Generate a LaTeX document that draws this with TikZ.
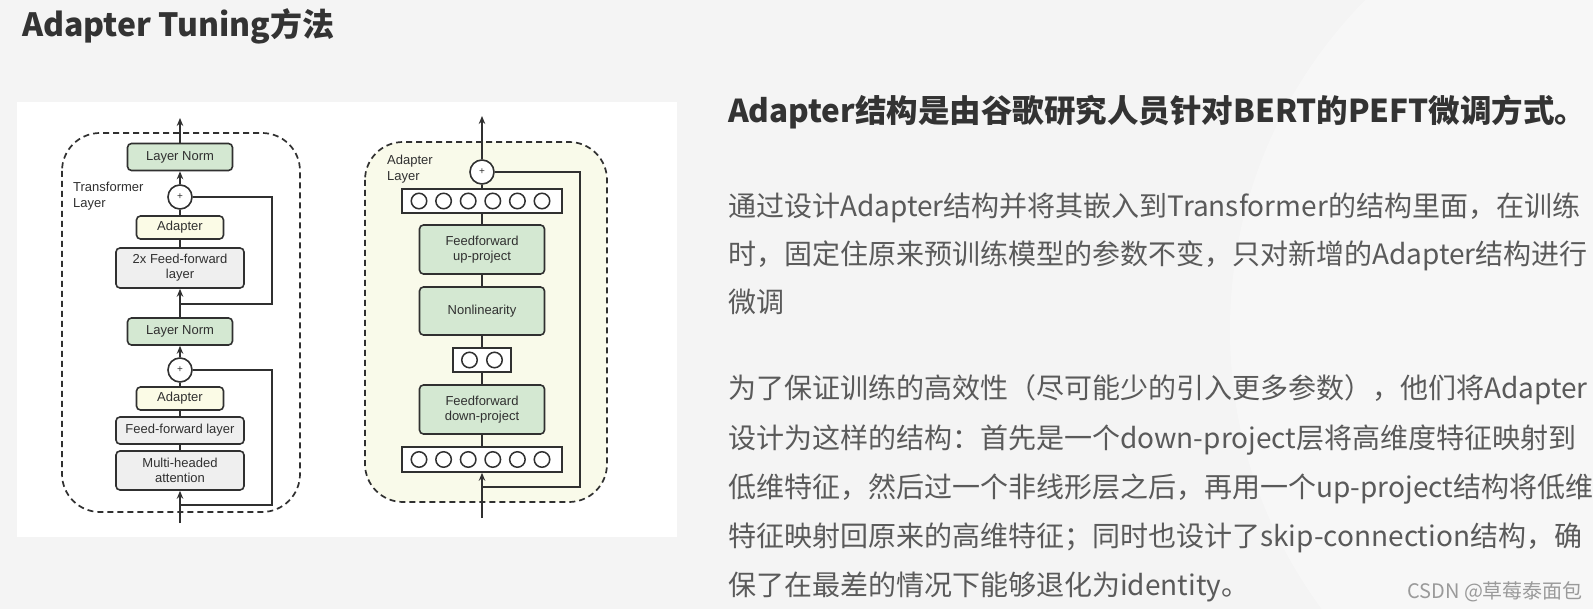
\documentclass[tikz,border=0pt]{standalone}
\usepackage{fontspec}
\setmainfont{Liberation Sans}
\newfontfamily\cjk{Noto Sans CJK SC}
\usetikzlibrary{arrows.meta}
\definecolor{bgc}{HTML}{F4F4F4}
\definecolor{linec}{HTML}{303030}
\definecolor{greenc}{HTML}{D4E8D2}
\definecolor{yellc}{HTML}{FBFBE6}
\definecolor{grayc}{HTML}{EFEFEF}
\definecolor{creamc}{HTML}{F9FAEA}
\definecolor{headc}{HTML}{333333}
\definecolor{bodyc}{HTML}{5A5A5A}
\definecolor{markc}{HTML}{9A9A9A}
\tikzset{
  blk/.style={draw=linec, line width=1.6pt, rounded corners=4pt, align=center,
    inner sep=0pt, font=\fontsize{13}{15}\selectfont, text=linec},
  greenbox/.style={blk, fill=greenc},
  yellbox/.style={blk, fill=yellc},
  graybox/.style={blk, fill=grayc},
  plusnode/.style={circle, draw=linec, line width=1.6pt, fill=white, minimum size=24pt,
    inner sep=0pt, font=\fontsize{10}{10}\selectfont, text=linec},
  neurbox/.style={draw=linec, line width=1.6pt, fill=white, inner sep=0pt},
  neuron/.style={circle, draw=linec, line width=1.5pt, minimum size=15.5pt, inner sep=0pt},
  conn/.style={draw=linec, line width=1.6pt},
  arr/.style={conn, -{Stealth[length=8pt,width=6.5pt]}},
  dashbox/.style={draw=linec, line width=1.7pt, dash pattern=on 6pt off 4pt, rounded corners=38pt},
  lbl/.style={font=\fontsize{13}{15.5}\selectfont, text=linec, align=left, inner sep=0pt},
  bodyline/.style={anchor=base west, inner sep=0pt, text=bodyc, font=\cjk\fontsize{28}{30}\selectfont},
}
\begin{document}
\begin{tikzpicture}[x=1pt,y=-1pt]
\useasboundingbox (0,0) rectangle (1593,609);
\fill[bgc] (0,0) rectangle (1593,609);
\fill[white, opacity=0.3] (1700,330) circle (470);
% title
\node[anchor=base west, inner sep=0pt, text=headc, font=\cjk\bfseries\fontsize{32}{34}\selectfont] (title) at (22,37) {Adapter Tuning方法};
% figure panel
\fill[white] (17,102) rectangle (677,537);

% ===== left: transformer layer =====
\draw[dashbox] (62,133) rectangle (300,512);
\node[lbl, anchor=north west] (tl) at (73,182) {Transformer\\Layer};
\node[greenbox, minimum width=105pt, minimum height=27pt] (ln1) at (180,157) {Layer Norm};
\node[plusnode] (p1) at (180,197) {+};
\node[yellbox, minimum width=87pt, minimum height=23pt] (ad1) at (180,227.5) {Adapter};
\node[graybox, minimum width=128pt, minimum height=40pt] (ff2) at (180,268) {2x Feed-forward\\layer};
\node[greenbox, minimum width=105pt, minimum height=27pt] (ln2) at (180,331.5) {Layer Norm};
\node[plusnode] (p2) at (180,370) {+};
\node[yellbox, minimum width=87pt, minimum height=23pt] (ad2) at (180,398.5) {Adapter};
\node[graybox, minimum width=128pt, minimum height=27pt] (ff1) at (180,430.5) {Feed-forward layer};
\node[graybox, minimum width=128pt, minimum height=39pt] (mha) at (180,470.5) {Multi-headed\\attention};
\coordinate (o1) at (180,118);
\coordinate (i1) at (180,523);
\coordinate (j1) at (180,304);
\coordinate (s1) at (272,304);
\coordinate (j2) at (180,505);
\coordinate (s2) at (272,505);
\draw[arr] (ln1) -- (o1);
\draw[arr] (p1) -- (ln1);
\draw[conn] (ad1) -- (p1);
\draw[conn] (ff2) -- (ad1);
\draw[arr] (ln2) -- (ff2);
\draw[arr] (p2) -- (ln2);
\draw[conn] (ad2) -- (p2);
\draw[conn] (ff1) -- (ad2);
\draw[conn] (mha) -- (ff1);
\draw[arr] (i1) -- (mha);
\draw[conn] (j1) -- (s1) |- (p1);
\draw[conn] (j2) -- (s2) |- (p2);

% ===== right: adapter layer =====
\draw[dashbox, fill=creamc] (365,142) rectangle (607,502);
\node[lbl, anchor=north west] (al) at (387,155) {Adapter\\Layer};
\node[plusnode] (p3) at (482,172) {+};
\node[neurbox, minimum width=160pt, minimum height=24pt] (nt) at (482,201) {};
\node[greenbox, minimum width=125pt, minimum height=49pt] (up) at (482,249.5) {Feedforward\\up-project};
\node[greenbox, minimum width=125pt, minimum height=48pt] (nl) at (482,311) {Nonlinearity};
\node[neurbox, minimum width=58pt, minimum height=24pt] (nm) at (482,360) {};
\node[greenbox, minimum width=125pt, minimum height=49pt] (dn) at (482,409.5) {Feedforward\\down-project};
\node[neurbox, minimum width=160pt, minimum height=25pt] (nb) at (482,459.5) {};
\foreach \i/\xx in {1/419,2/443.6,3/468.2,4/492.8,5/517.4,6/542}{
  \node[neuron] (nt\i) at (\xx,201) {};
  \node[neuron] (nb\i) at (\xx,459.5) {};
}
\node[neuron] (nm1) at (469.5,360) {};
\node[neuron] (nm2) at (494.5,360) {};
\coordinate (o3) at (482,116);
\coordinate (i3) at (482,518);
\coordinate (j3) at (482,487);
\coordinate (s3) at (580,487);
\draw[arr] (p3) -- (o3);
\draw[conn] (nt) -- (p3);
\draw[conn] (up) -- (nt);
\draw[conn] (nl) -- (up);
\draw[conn] (nm) -- (nl);
\draw[conn] (dn) -- (nm);
\draw[conn] (nb) -- (dn);
\draw[arr] (i3) -- (nb);
\draw[conn] (j3) -- (s3) |- (p3);

% ===== right-hand text =====
\node[anchor=base west, inner sep=0pt, text=headc, font=\cjk\bfseries\fontsize{31.5}{33}\selectfont] (hd) at (728,123) {Adapter结构是由谷歌研究人员针对BERT的PEFT微调方式。};
\node[bodyline] (a1) at (728,217) {通过设计Adapter结构并将其嵌入到Transformer的结构里面，在训练};
\node[bodyline] (a2) at (728,265) {时，固定住原来预训练模型的参数不变，只对新增的Adapter结构进行};
\node[bodyline] (a3) at (728,313) {微调};
\node[bodyline] (b1) at (728,399) {为了保证训练的高效性（尽可能少的引入更多参数），他们将Adapter};
\node[bodyline] (b2) at (728,448) {设计为这样的结构：首先是一个down-project层将高维度特征映射到};
\node[bodyline] (b3) at (728,497) {低维特征，然后过一个非线形层之后，再用一个up-project结构将低维};
\node[bodyline] (b4) at (728,546) {特征映射回原来的高维特征；同时也设计了skip-connection结构，确};
\node[bodyline] (b5) at (728,595) {保了在最差的情况下能够退化为identity。};
\node[anchor=base west, inner sep=0pt, text=markc, font=\cjk\fontsize{20}{22}\selectfont] (wm) at (1407,598) {CSDN @草莓泰面包};
\end{tikzpicture}
\end{document}
